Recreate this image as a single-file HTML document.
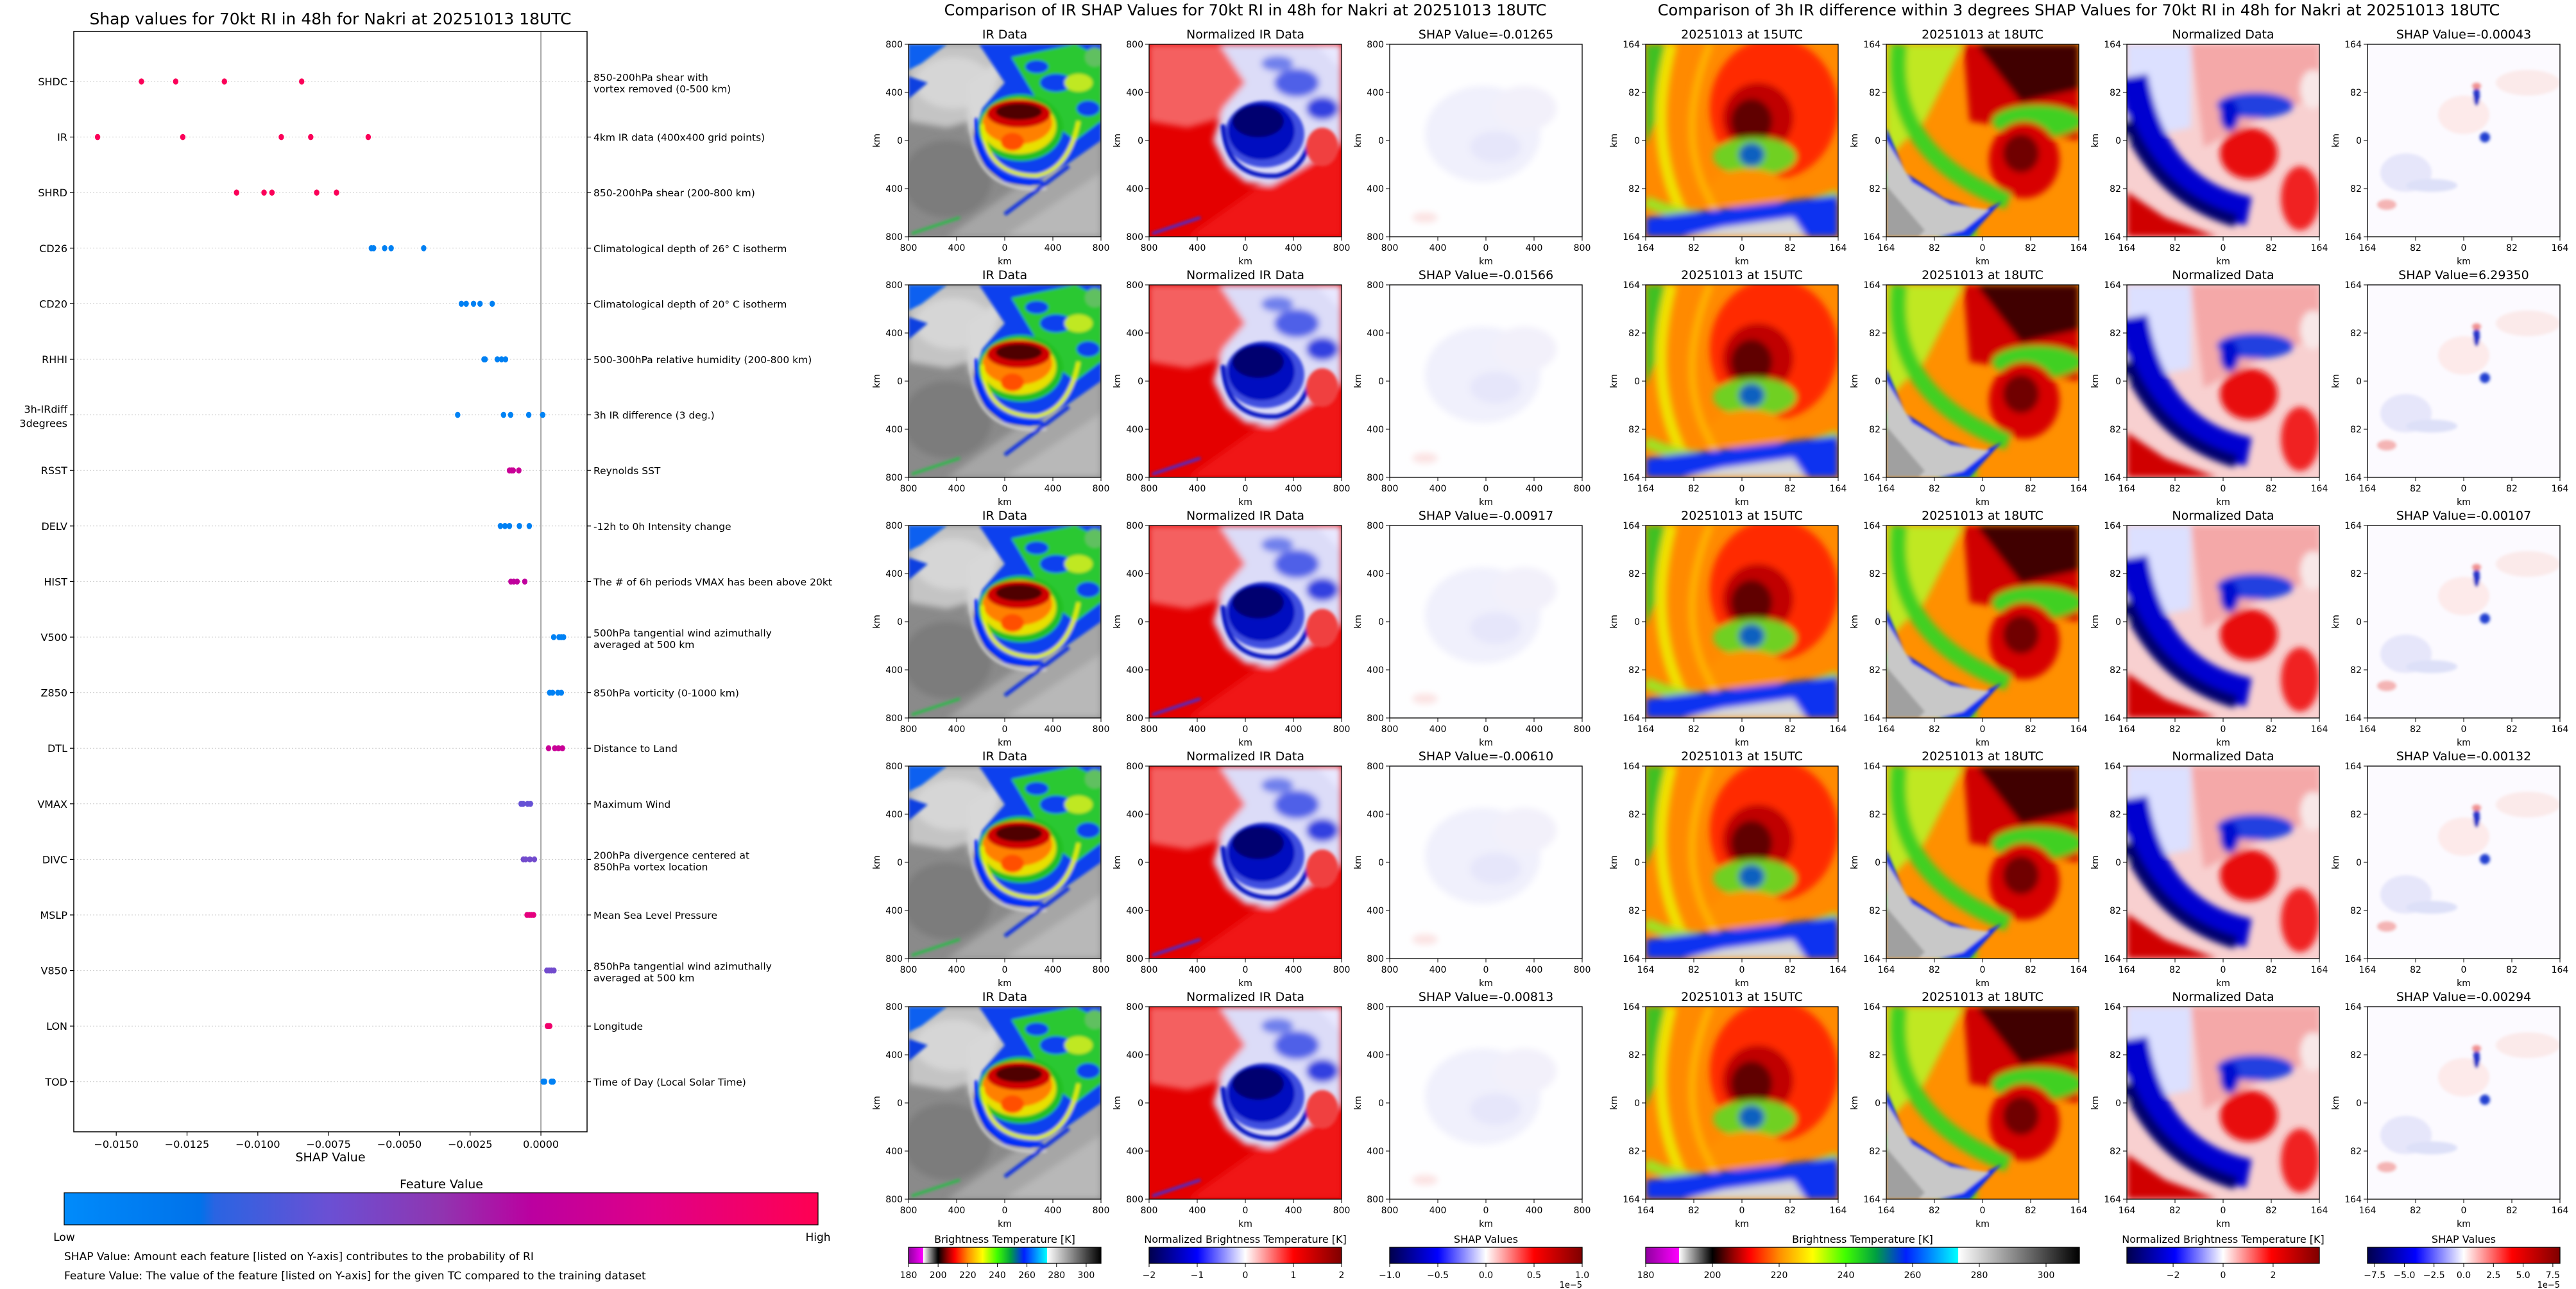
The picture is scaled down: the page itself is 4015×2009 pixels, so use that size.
<!DOCTYPE html>
<html><head><meta charset="utf-8"><title>SHAP RI figure</title>
<style>
html,body{margin:0;padding:0;background:#fff;}
svg{display:block;font-family:"DejaVu Sans","Liberation Sans",sans-serif;}
</style></head>
<body>
<svg id="fig" xmlns="http://www.w3.org/2000/svg" width="4015" height="2009" viewBox="0 0 4015 2009">
<defs>
<filter id="bl" x="-10%" y="-10%" width="120%" height="120%"><feGaussianBlur stdDeviation="5"/></filter>
<filter id="bl2" x="-10%" y="-10%" width="120%" height="120%"><feGaussianBlur stdDeviation="2.5"/></filter>
<clipPath id="cp"><rect x="0" y="0" width="300" height="300"/></clipPath>
<linearGradient id="shapcm" x1="0" x2="1" y1="0" y2="0">
<stop offset="0" stop-color="#008bfb"/><stop offset="0.18" stop-color="#0072ea"/><stop offset="0.2" stop-color="#2a64e2"/><stop offset="0.35" stop-color="#6a50d4"/><stop offset="0.5" stop-color="#9035b0"/><stop offset="0.62" stop-color="#bb00a0"/><stop offset="0.78" stop-color="#df0088"/><stop offset="1" stop-color="#ff0052"/></linearGradient>
<linearGradient id="ircm" x1="0" x2="1" y1="0" y2="0">
<stop offset="0" stop-color="#9000a0"/><stop offset="0.0769" stop-color="#ff00ff"/><stop offset="0.0770" stop-color="#ffffff"/><stop offset="0.1538" stop-color="#000000"/><stop offset="0.20" stop-color="#900000"/><stop offset="0.24" stop-color="#ff0000"/><stop offset="0.31" stop-color="#ff9000"/><stop offset="0.385" stop-color="#ffff00"/><stop offset="0.46" stop-color="#40ff00"/><stop offset="0.53" stop-color="#00a040"/><stop offset="0.6" stop-color="#0020ff"/><stop offset="0.72" stop-color="#00ffff"/><stop offset="0.721" stop-color="#ffffff"/><stop offset="1" stop-color="#000000"/></linearGradient>
<linearGradient id="seis" x1="0" x2="1" y1="0" y2="0">
<stop offset="0" stop-color="#00004c"/><stop offset="0.25" stop-color="#0000ff"/><stop offset="0.5" stop-color="#ffffff"/><stop offset="0.75" stop-color="#ff0000"/><stop offset="1" stop-color="#7f0000"/></linearGradient>

<symbol id="irimg" viewBox="0 0 300 300"><g clip-path="url(#cp)">
<rect width="300" height="300" fill="#8a8a8a"/>
<g filter="url(#bl)">
<polygon points="0,0 190,0 130,110 60,130 0,120" fill="#c4c4c4"/>
<ellipse cx="70" cy="60" rx="60" ry="40" fill="#d6d6d6"/>
<ellipse cx="60" cy="210" rx="70" ry="60" fill="#7c7c7c"/>
<polygon points="60,300 300,130 300,300" fill="#a6a6a6"/>
<polygon points="150,300 300,200 300,300" fill="#b8b8b8"/>
<polygon points="90,60 150,20 120,120 95,140" fill="#d8d8d8"/>
</g>
<g filter="url(#bl2)">
<polygon points="110,0 300,0 300,150 250,185 190,220 150,215 120,190 100,150 115,100 150,60" fill="#1040ee"/>
<polygon points="160,20 260,0 300,20 300,120 260,150 220,120 190,70" fill="#2cc830"/>
<ellipse cx="230" cy="60" rx="25" ry="14" fill="#1040ee"/>
<ellipse cx="280" cy="100" rx="18" ry="12" fill="#1040ee"/>
<ellipse cx="200" cy="35" rx="18" ry="10" fill="#1040ee"/>
<ellipse cx="265" cy="60" rx="22" ry="14" fill="#c0e820"/>
<ellipse cx="290" cy="20" rx="15" ry="15" fill="#60c060"/>
<ellipse cx="175" cy="130" rx="66" ry="52" fill="#20c020"/>
<ellipse cx="172" cy="128" rx="58" ry="43" fill="#e8e000"/>
<ellipse cx="170" cy="122" rx="54" ry="34" fill="#ff8000"/>
<ellipse cx="172" cy="108" rx="50" ry="22" fill="#d00000"/>
<ellipse cx="172" cy="105" rx="36" ry="13" fill="#500000"/>
<ellipse cx="162" cy="152" rx="18" ry="14" fill="#ff5000"/>
<path d="M115,125 Q120,205 200,205 Q250,195 265,120" fill="none" stroke="#e0f000" stroke-width="6"/>
<path d="M105,115 Q105,225 210,215" fill="none" stroke="#0020ff" stroke-width="5"/>
<path d="M96,110 Q95,235 215,225" fill="none" stroke="#d0d0d0" stroke-width="4"/>
<path d="M250,190 L150,265" fill="none" stroke="#1030e0" stroke-width="6"/>
<polygon points="0,0 60,0 20,30 0,40" fill="#1060f0"/>
<polygon points="0,50 30,60 0,85" fill="#1040e0"/>
<path d="M5,295 L80,270" stroke="#20c040" stroke-width="4"/>
</g></g></symbol>

<symbol id="nimg" viewBox="0 0 300 300"><g clip-path="url(#cp)">
<rect width="300" height="300" fill="#e40000"/>
<g filter="url(#bl)">
<polygon points="0,0 190,0 130,110 60,130 0,120" fill="#f46060"/>
<polygon points="60,300 300,130 300,300" fill="#f01818"/>
<polygon points="110,0 300,0 300,150 250,185 190,220 150,215 120,190 100,150 115,100 150,60" fill="#dcdcf8"/>
<ellipse cx="230" cy="60" rx="35" ry="22" fill="#5060e8"/>
<ellipse cx="270" cy="100" rx="25" ry="18" fill="#3040e0"/>
<ellipse cx="200" cy="30" rx="25" ry="12" fill="#7080ec"/>
<polygon points="260,0 300,0 300,40" fill="#e8e8ff"/>
</g>
<g filter="url(#bl2)">
<ellipse cx="180" cy="140" rx="62" ry="52" fill="#4050e0"/>
<ellipse cx="175" cy="135" rx="52" ry="45" fill="#0010c0"/>
<ellipse cx="170" cy="120" rx="40" ry="25" fill="#000070"/>
<path d="M115,125 Q120,210 200,205 Q240,195 250,150" fill="none" stroke="#0010c0" stroke-width="7"/>
<ellipse cx="270" cy="160" rx="25" ry="30" fill="#f04040"/>
<path d="M5,295 L80,270" stroke="#3030f0" stroke-width="4"/>
</g></g></symbol>

<symbol id="simg" viewBox="0 0 300 300"><g clip-path="url(#cp)">
<rect width="300" height="300" fill="#fefeff"/>
<g filter="url(#bl)">
<ellipse cx="145" cy="140" rx="90" ry="75" fill="#f0f0fc"/>
<ellipse cx="165" cy="160" rx="40" ry="25" fill="#e6e6fa"/>
<ellipse cx="210" cy="100" rx="50" ry="35" fill="#f2f0fa"/>
<ellipse cx="55" cy="270" rx="20" ry="8" fill="#fbe2e2"/>
</g></g></symbol>

<symbol id="a15" viewBox="0 0 300 300"><g clip-path="url(#cp)">
<rect width="300" height="300" fill="#ff8a00"/>
<g filter="url(#bl)">
<polygon points="0,0 40,0 15,120 0,160" fill="#40c020"/>
<path d="M40,0 Q0,150 60,270" fill="none" stroke="#f0e000" stroke-width="18"/>
<path d="M100,0 Q40,150 110,260" fill="none" stroke="#ffb000" stroke-width="12"/>
<ellipse cx="200" cy="100" rx="100" ry="110" fill="#ff2a00"/>
<ellipse cx="175" cy="115" rx="55" ry="55" fill="#c00000"/>
<ellipse cx="165" cy="120" rx="32" ry="35" fill="#600000"/>
<ellipse cx="170" cy="175" rx="65" ry="30" fill="#70d020"/>
<ellipse cx="165" cy="172" rx="20" ry="18" fill="#1060c0"/>
<ellipse cx="160" cy="225" rx="60" ry="30" fill="#ff9000"/>
<path d="M0,245 Q120,300 300,235" fill="none" stroke="#a0e020" stroke-width="18"/>
<polygon points="0,270 300,235 300,300 0,300" fill="#1030f0"/>
<polygon points="60,300 120,285 230,270 250,300" fill="#d8d8d8"/>
</g></g></symbol>

<symbol id="a18" viewBox="0 0 300 300"><g clip-path="url(#cp)">
<rect width="300" height="300" fill="#ff9000"/>
<g filter="url(#bl)">
<polygon points="0,0 120,0 60,120 0,180" fill="#c0e820"/>
<polygon points="120,0 300,0 300,150 200,130 130,120" fill="#d00000"/>
<polygon points="140,0 300,0 300,70 210,90" fill="#400000"/>
<ellipse cx="235" cy="120" rx="70" ry="25" fill="#40d020"/>
<ellipse cx="215" cy="180" rx="55" ry="60" fill="#d80000"/>
<ellipse cx="210" cy="170" rx="28" ry="30" fill="#700000"/>
<path d="M20,0 Q0,170 190,245" fill="none" stroke="#40d020" stroke-width="26"/>
<path d="M0,200 Q60,290 140,300" fill="none" stroke="#60d020" stroke-width="30"/>
</g>
<g filter="url(#bl2)">
<polygon points="0,130 30,200 90,240 150,260 180,245 130,300 0,300" fill="#1030f0"/>
<polygon points="0,150 40,215 100,250 160,258 120,290 80,300 0,300" fill="#c8c8c8"/>
<polygon points="0,220 60,290 50,300 0,300" fill="#a0a0a0"/>
</g></g></symbol>

<symbol id="an" viewBox="0 0 300 300"><g clip-path="url(#cp)">
<rect width="300" height="300" fill="#f8d0d0"/>
<g filter="url(#bl)">
<polygon points="0,0 100,0 100,130 0,150" fill="#dce0ff"/>
<polygon points="100,0 300,0 300,80 200,120 120,160" fill="#f4a8a8"/>
<path d="M10,50 Q40,230 190,260" fill="none" stroke="#0000d0" stroke-width="45"/>
<path d="M0,120 Q50,240 170,275" fill="none" stroke="#000070" stroke-width="20"/>
<polygon points="0,230 0,300 140,300 60,270" fill="#d00000"/>
<ellipse cx="200" cy="95" rx="60" ry="20" fill="#2040e0"/>
<ellipse cx="160" cy="110" rx="15" ry="25" fill="#0010d0"/>
<ellipse cx="190" cy="170" rx="45" ry="40" fill="#e81010"/>
<ellipse cx="270" cy="240" rx="30" ry="50" fill="#f02020"/>
<ellipse cx="290" cy="70" rx="20" ry="30" fill="#f8e8e8"/>
</g></g></symbol>

<symbol id="as" viewBox="0 0 300 300"><g clip-path="url(#cp)">
<rect width="300" height="300" fill="#fcfaff"/>
<g filter="url(#bl2)">
<ellipse cx="60" cy="200" rx="40" ry="30" fill="#e6e6fa"/>
<ellipse cx="150" cy="110" rx="40" ry="30" fill="#fdeaea"/>
<ellipse cx="250" cy="60" rx="50" ry="20" fill="#fbeaea"/>
<ellipse cx="170" cy="80" rx="5" ry="16" fill="#2030c8"/>
<ellipse cx="183" cy="145" rx="8" ry="8" fill="#2040d0"/>
<ellipse cx="170" cy="65" rx="7" ry="5" fill="#f09090"/>
<ellipse cx="100" cy="220" rx="40" ry="10" fill="#dde0f8"/>
<ellipse cx="30" cy="250" rx="15" ry="8" fill="#f4b4b4"/>
</g></g></symbol>
</defs>
<rect width="4015" height="2009" fill="#fff"/>
<g id="root"></g>
</svg>
<script>
// ---------------- Beeswarm data ----------------
const featureNames = ['SHDC','IR','SHRD','CD26','CD20','RHHI','3h-IRdiff|3degrees','RSST','DELV','HIST','V500','Z850','DTL','VMAX','DIVC','MSLP','V850','LON','TOD'];
const featureDescriptions = ['850-200hPa shear with|vortex removed (0-500 km)','4km IR data (400x400 grid points)','850-200hPa shear (200-800 km)','Climatological depth of 26° C isotherm','Climatological depth of 20° C isotherm','500-300hPa relative humidity (200-800 km)','3h IR difference (3 deg.)','Reynolds SST','-12h to 0h Intensity change','The # of 6h periods VMAX has been above 20kt','500hPa tangential wind azimuthally|averaged at 500 km','850hPa vorticity (0-1000 km)','Distance to Land','Maximum Wind','200hPa divergence centered at|850hPa vortex location','Mean Sea Level Pressure','850hPa tangential wind azimuthally|averaged at 500 km','Longitude','Time of Day (Local Solar Time)'];
const shapValues = [
 [-0.01411,-0.01290,-0.01118,-0.00845],
 [-0.01566,-0.01265,-0.00917,-0.00813,-0.00610],
 [-0.01075,-0.00978,-0.00950,-0.00792,-0.00722],
 [-0.00599,-0.00591,-0.00552,-0.00529,-0.00414],
 [-0.00281,-0.00264,-0.00238,-0.00215,-0.00172],
 [-0.00201,-0.00197,-0.00154,-0.00139,-0.00125],
 [-0.00294,-0.00132,-0.00107,-0.00043,0.0000629],
 [-0.00111,-0.00104,-0.00098,-0.00078],
 [-0.00143,-0.00127,-0.00111,-0.00076,-0.00041],
 [-0.00106,-0.00096,-0.00084,-0.00057],
 [0.00045,0.00064,0.00072,0.00080],
 [0.00031,0.00041,0.00060,0.00072],
 [0.00027,0.00049,0.00062,0.00076],
 [-0.00070,-0.00063,-0.00047,-0.00037],
 [-0.00062,-0.00054,-0.00039,-0.00023],
 [-0.00049,-0.00041,-0.00034,-0.00026],
 [0.00021,0.00029,0.00037,0.00046],
 [0.00023,0.00027,0.00031],
 [0.00008,0.00013,0.00037,0.00043]
];
const featureLevels = [0.97,0.97,0.97,0.08,0.08,0.08,0.06,0.68,0.08,0.64,0.07,0.07,0.68,0.34,0.38,0.82,0.38,0.9,0.07];
const xTickValues = [-0.0150,-0.0125,-0.0100,-0.0075,-0.0050,-0.0025,0.0000];
// ---------------- Panel titles ----------------
const irShapTitles = ['-0.01265','-0.01566','-0.00917','-0.00610','-0.00813'];
const diffShapTitles = ['-0.00043','6.29350','-0.00107','-0.00132','-0.00294'];

const NS='http://www.w3.org/2000/svg';
const root=document.getElementById('root');
function mk(tag,attrs,parent){const e=document.createElementNS(NS,tag);for(const k in attrs)e.setAttribute(k,attrs[k]);(parent||root).appendChild(e);return e;}
function txt(x,y,s,size,anchor,parent,extra){const e=mk('text',Object.assign({x:x,y:y,'font-size':size,'text-anchor':anchor||'middle',fill:'#000'},extra||{}),parent);e.textContent=s;return e;}
function lerp(a,b,t){return a+(b-a)*t;}
const cmStops=[[0,[0,139,251]],[0.18,[0,114,234]],[0.2,[42,100,226]],[0.35,[106,80,212]],[0.5,[144,53,176]],[0.62,[187,0,160]],[0.78,[223,0,136]],[1,[255,0,82]]];
function cmap(t){for(let i=1;i<cmStops.length;i++){if(t<=cmStops[i][0]){const a=cmStops[i-1],b=cmStops[i];const u=(t-a[0])/(b[0]-a[0]);return 'rgb('+a[1].map((c,j)=>Math.round(lerp(c,b[1][j],u))).join(',')+')';}}return 'rgb(255,0,82)';}

// ---------------- Left beeswarm ----------------
const AX={l:115,r:915,t:49,b:1764};
const xMin=-0.01650,xMax=0.00163;
function xScale(v){return AX.l+(v-xMin)/(xMax-xMin)*(AX.r-AX.l);}
function yScale(i){return 127+i*86.6;}
const lg=mk('g',{});


const t1=txt(515,38,'Shap values for 70kt RI in 48h for Nakri at 20251013 18UTC',25,'middle',lg);


featureNames.forEach((f,i)=>{
  const y=yScale(i);
  const gl=mk('line',{x1:AX.l,x2:AX.r,y1:y,y2:y,stroke:'#cccccc','stroke-width':1,'stroke-dasharray':'2,3'},lg);
  
  
  mk('line',{x1:AX.l-6,x2:AX.l,y1:y,y2:y,stroke:'#000','stroke-width':1.2},lg);
  mk('line',{x1:AX.r,x2:AX.r+6,y1:y,y2:y,stroke:'#000','stroke-width':1.2},lg);
  const parts=f.split('|');
  parts.forEach((p,k)=>{const e=txt(AX.l-10,y+6+(k-(parts.length-1)/2)*22-(parts.length>1?-2:0),p,16,'end',lg);
    
    });
  const dp=featureDescriptions[i].split('|');
  dp.forEach((p,k)=>{const e=txt(AX.r+10,y+6+(k-(dp.length-1)/2)*18+(dp.length>1?2:0),p,15.5,'start',lg);
    
    });
});
const zl=mk('line',{x1:xScale(0),x2:xScale(0),y1:AX.t,y2:AX.b,stroke:'#888','stroke-width':1.5},lg);


shapValues.forEach((arr,i)=>{
  arr.forEach(v=>{
    const c=mk('ellipse',{cx:xScale(v),cy:yScale(i),rx:4.2,ry:4.8,fill:cmap(featureLevels[i])},lg);
    
    
  });
});
const fr=mk('rect',{x:AX.l,y:AX.t,width:AX.r-AX.l,height:AX.b-AX.t,fill:'none',stroke:'#000','stroke-width':1.5},lg);


xTickValues.forEach(v=>{
  const x=xScale(v);
  mk('line',{x1:x,x2:x,y1:AX.b,y2:AX.b+6,stroke:'#000','stroke-width':1.2},lg);
  const e=txt(x,AX.b+25,(v<0?'\u2212':'')+Math.abs(v).toFixed(4),16,'middle',lg);
  
  
});
const xt=txt(515,AX.b+46,'SHAP Value',19,'middle',lg);


const fvt=txt(688,1852,'Feature Value',19,'middle',lg);


const fcb=mk('rect',{x:100,y:1859,width:1175,height:50,fill:'url(#shapcm)',stroke:'#000','stroke-width':1.2},lg);


const lo=txt(100,1934,'Low',17,'middle',lg);
const hi=txt(1275,1934,'High',17,'middle',lg);
const n1=txt(100,1964,'SHAP Value: Amount each feature [listed on Y-axis] contributes to the probability of RI',17,'start',lg);

const n2=txt(100,1994,'Feature Value: The value of the feature [listed on Y-axis] for the given TC compared to the training dataset',17,'start',lg);


// ---------------- Image panels ----------------
function panel(x,y,sym,title,tickLabels,name){
  const g=mk('g',{});
  
  
  mk('use',{href:'#'+sym,x:x,y:y,width:300,height:300},g);
  mk('rect',{x:x,y:y,width:300,height:300,fill:'none',stroke:'#000','stroke-width':1.3},g);
  const t=txt(x+150,y-9,title,19,'middle',g);
  
  
  for(let k=0;k<5;k++){
    const px=x+k*75, py=y+k*75;
    mk('line',{x1:px,x2:px,y1:y+300,y2:y+306,stroke:'#000','stroke-width':1},g);
    mk('line',{x1:x-6,x2:x,y1:py,y2:py,stroke:'#000','stroke-width':1},g);
    txt(px,y+322,tickLabels[k],14,'middle',g);
    txt(x-9,py+5,tickLabels[k],14,'end',g);
  }
  txt(x+150,y+343,'km',14,'middle',g);
  txt(0,0,'km',14,'middle',g,{transform:'translate('+(x-45)+','+(y+150)+') rotate(-90)'});
}
const kmTicks=['800','400','0','400','800'];
const smTicks=['164','82','0','82','164'];
const midX=[1416,1791,2166];
const rightX=[2565,2940,3315,3690];
const rowY=[69,444,819,1194,1569];
const mt=txt(1941,24,'Comparison of IR SHAP Values for 70kt RI in 48h for Nakri at 20251013 18UTC',24,'middle');

const rt=txt(3240,24,'Comparison of 3h IR difference within 3 degrees SHAP Values for 70kt RI in 48h for Nakri at 20251013 18UTC',24,'middle');

rowY.forEach((y,r)=>{
  panel(midX[0],y,'irimg','IR Data',kmTicks,'ir-data-panel');
  panel(midX[1],y,'nimg','Normalized IR Data',kmTicks,'normalized-ir-panel');
  panel(midX[2],y,'simg','SHAP Value='+irShapTitles[r],kmTicks,'ir-shap-panel');
  panel(rightX[0],y,'a15','20251013 at 15UTC',smTicks,'ir-15utc-panel');
  panel(rightX[1],y,'a18','20251013 at 18UTC',smTicks,'ir-18utc-panel');
  panel(rightX[2],y,'an','Normalized Data',smTicks,'normalized-diff-panel');
  panel(rightX[3],y,'as','SHAP Value='+diffShapTitles[r],smTicks,'diff-shap-panel');
});

// ---------------- Colorbars ----------------
function cbar(x,w,grad,title,vmin,vmax,ticks,labels,name,offset){
  const g=mk('g',{});
  
  
  txt(x+w/2,1937,title,16,'middle',g);
  mk('rect',{x:x,y:1944,width:w,height:25,fill:'url(#'+grad+')',stroke:'#000','stroke-width':1.3},g);
  ticks.forEach((v,k)=>{const px=x+(v-vmin)/(vmax-vmin)*w;
    mk('line',{x1:px,x2:px,y1:1969,y2:1975,stroke:'#000','stroke-width':1},g);
    txt(px,1992,labels[k],14,'middle',g);});
  if(offset)txt(x+w,2007,offset,13,'end',g);
}
const irTicks=[180,200,220,240,260,280,300];
const irLabels=irTicks.map(String);
cbar(1416,300,'ircm','Brightness Temperature [K]',180,310,irTicks,irLabels,'ir-colorbar');
cbar(1791,300,'seis','Normalized Brightness Temperature [K]',-2,2,[-2,-1,0,1,2],['\u22122','\u22121','0','1','2'],'normalized-colorbar');
cbar(2166,300,'seis','SHAP Values',-1,1,[-1,-0.5,0,0.5,1],['\u22121.0','\u22120.5','0.0','0.5','1.0'],'shap-colorbar','1e\u22125');
cbar(2565,676,'ircm','Brightness Temperature [K]',180,310,irTicks,irLabels,'diff-ir-colorbar');
cbar(3315,300,'seis','Normalized Brightness Temperature [K]',-3.85,3.85,[-2,0,2],['\u22122','0','2'],'diff-normalized-colorbar');
cbar(3690,300,'seis','SHAP Values',-8.1,8.1,[-7.5,-5,-2.5,0,2.5,5,7.5],['\u22127.5','\u22125.0','\u22122.5','0.0','2.5','5.0','7.5'],'diff-shap-colorbar','1e\u22125');
</script>
</body></html>
